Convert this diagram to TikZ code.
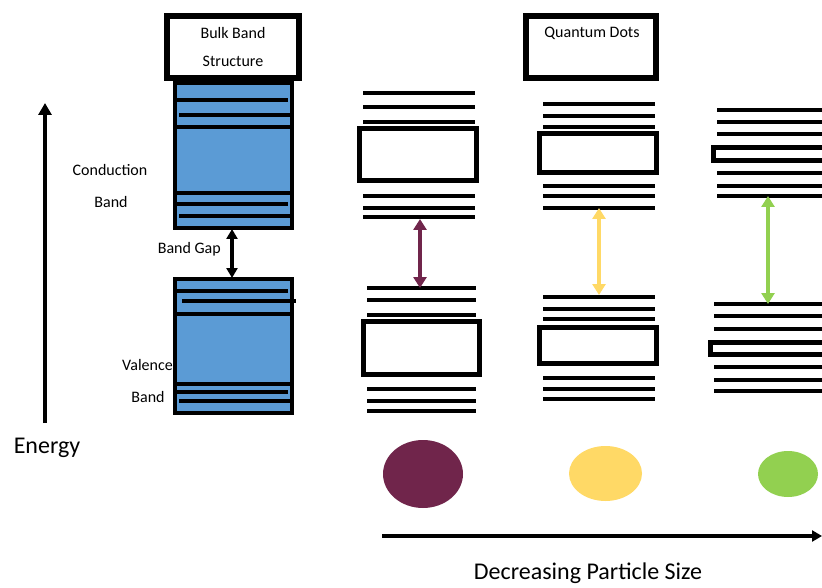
\documentclass[tikz,border=0pt]{standalone}
\usepackage{fontspec}
\setmainfont{Carlito}
\usetikzlibrary{arrows.meta}
\definecolor{bandblue}{HTML}{5B9BD5}
\definecolor{qdpurple}{HTML}{70254B}
\definecolor{qdyellow}{HTML}{FFD966}
\definecolor{qdgreen}{HTML}{92D050}

\begin{document}
\begin{tikzpicture}[x=1pt,y=-1pt,font=\fontsize{16}{19}\selectfont,
  level/.style={line width=4pt},
  band/.style={draw=black,fill=bandblue,line width=4pt},
  dotbox/.style={draw=black,line width=5pt},
  titlebox/.style={draw=black,line width=6pt},
  gaparrow/.style={{Triangle[length=11pt,width=13pt]}-{Triangle[length=11pt,width=13pt]},line width=3.5pt},
  bigtext/.style={font=\fontsize{24}{28}\selectfont,inner sep=0pt},
  lbl/.style={inner sep=0pt}]
\useasboundingbox (0,0) rectangle (822,588);

% ================= energy axis =================
\coordinate (ebot) at (45,423);
\coordinate (etop) at (45,103);
\draw[-{Triangle[length=12pt,width=13pt]},line width=4pt] (ebot) -- (etop);
\node[bigtext] (energy) at (47,448) {Energy};

% ================= bulk band structure =================
\draw[titlebox] (167,16) rectangle (299,78);
\node[lbl] (bulk1) at (233,33) {Bulk Band};
\node[lbl] (bulk2) at (233,61) {Structure};
% conduction band
\draw[band] (175,83) rectangle (292,228);
\draw[level] (175,127) -- (292,127);
\draw[level] (175,193) -- (292,193);
\foreach \y in {100,204} \draw[level] (177,\y) -- (288,\y);
\foreach \y in {115,216} \draw[level] (179,\y) -- (292,\y);
\node[lbl] (cond1) at (110,170) {Conduction};
\node[lbl] (cond2) at (111,202) {Band};
% valence band
\draw[band] (175,279) rectangle (292,413);
\draw[level] (175,314) -- (292,314);
\draw[level] (175,384) -- (292,384);
\foreach \y in {291,392} \draw[level] (177,\y) -- (288,\y);
\draw[level] (182,301) -- (296,301);
\draw[level] (179,401) -- (292,401);
\node[lbl,anchor=east] (val1) at (173,365) {Valence};
\node[lbl] (val2) at (148,397) {Band};
% band gap
\coordinate (cbbot) at (232,229);
\coordinate (vbtop) at (232,278);
\draw[gaparrow,{Triangle[length=10pt,width=11pt]}-{Triangle[length=10pt,width=11pt]}] (cbbot) -- (vbtop);
\node[lbl,anchor=east] (gaplbl) at (221,249) {Band Gap};

% ================= quantum dots =================
\draw[titlebox] (526,16) rectangle (656,78);
\node[lbl] (qdlbl) at (592,33) {Quantum Dots};

% large dot
\foreach \y in {93,107,122,196,208,217} \draw[level] (363,\y) -- (475,\y);
\draw[dotbox] (359.5,128.5) rectangle (476.5,180.5);
\foreach \y in {288,300,315,389,401,411} \draw[level] (367,\y) -- (476,\y);
\draw[dotbox] (363.5,321.5) rectangle (479.5,374.5);
\coordinate (ptop) at (420,219);
\coordinate (pbot) at (420,288);
\draw[gaparrow,qdpurple] (ptop) -- (pbot);

% medium dot
\foreach \y in {104,116,127,186,196,208,297,309,319,378,389,399} \draw[level] (543,\y) -- (655,\y);
\draw[dotbox] (539.5,133.5) rectangle (656.5,172.5);
\draw[dotbox] (539.5,327.5) rectangle (656.5,363.5);
\coordinate (ytop) at (599,208);
\coordinate (ybot) at (599,295);
\draw[gaparrow,qdyellow] (ytop) -- (ybot);

% small dot
\foreach \y in {110,122,134,173,186,196} \draw[level] (717,\y) -- (830,\y);
\draw[dotbox] (713.5,147.5) rectangle (835,160.5);
\foreach \y in {304,316,329,367,380,391} \draw[level] (714,\y) -- (830,\y);
\draw[dotbox] (710.5,342.5) rectangle (835,354.5);
\coordinate (gtop) at (768,196);
\coordinate (gbot) at (768,304);
\draw[gaparrow,qdgreen] (gtop) -- (gbot);

% ================= particles =================
\fill[qdpurple] (423,474) ellipse [x radius=40,y radius=34];
\fill[qdyellow] (605.5,473.5) ellipse [x radius=36.5,y radius=27.5];
\fill[qdgreen] (788,474) ellipse [x radius=30,y radius=23];

\coordinate (sizestart) at (382,536);
\coordinate (sizeend) at (822,536);
\draw[-{Triangle[length=10pt,width=11pt]},line width=3.5pt] (sizestart) -- (sizeend);
\node[bigtext] (sizelbl) at (588,573) {Decreasing Particle Size};
\end{tikzpicture}
\end{document}
